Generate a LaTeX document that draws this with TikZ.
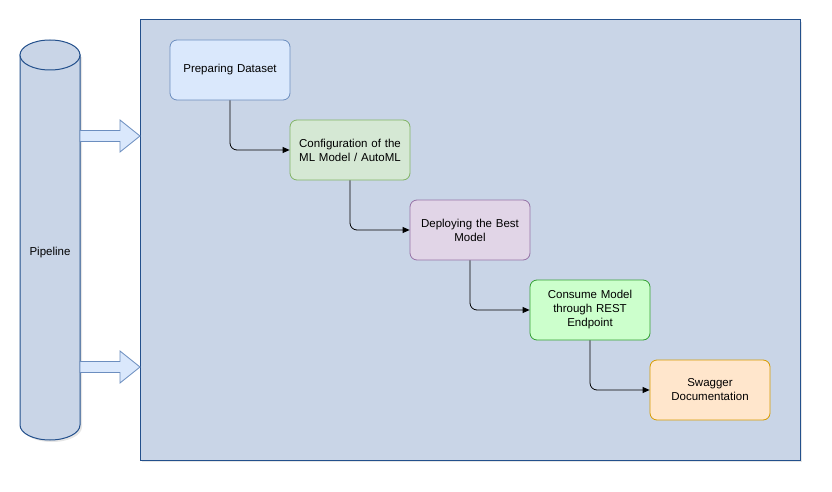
\documentclass[tikz,border=0pt]{standalone}
\usepackage{fontspec}
\setmainfont{Liberation Sans}
\usetikzlibrary{arrows.meta,positioning,shadows}

\definecolor{panelfill}{HTML}{C9D5E7}
\definecolor{panelline}{HTML}{23508C}
\definecolor{bluefill}{HTML}{DAE8FC}
\definecolor{blueline}{HTML}{6C8EBF}
\definecolor{greenfill}{HTML}{D5E8D4}
\definecolor{greenline}{HTML}{82B366}
\definecolor{purplefill}{HTML}{E1D5E7}
\definecolor{purpleline}{HTML}{9673A6}
\definecolor{limefill}{HTML}{CCFFCC}
\definecolor{limeline}{HTML}{33A033}
\definecolor{orangefill}{HTML}{FFE6CC}
\definecolor{orangeline}{HTML}{D79B00}

\tikzset{
  stage/.style={draw, line width=0.8pt, rounded corners=7pt, minimum width=120pt,
    minimum height=60pt, text width=112pt, align=center,
    font=\fontsize{11.5}{14}\selectfont},
  link/.style={-{Triangle[length=7pt,width=6pt]}, line width=0.8pt, rounded corners=7pt},
  softshadow/.style={drop shadow={opacity=0.2, shadow xshift=2pt, shadow yshift=-2pt}},
}

\begin{document}
\begin{tikzpicture}[x=1pt, y=-1pt]
  \useasboundingbox (0,0) rectangle (832,492);

  % panel holding the stages
  \node[draw=panelline, fill=panelfill, line width=1pt, softshadow,
    minimum width=660pt, minimum height=440pt] (panel) at (470,240) {};

  % pipeline cylinder
  \draw[draw=panelline, fill=panelfill, line width=1pt, softshadow]
    (20,55) -- (20,425) arc[start angle=180, end angle=360, x radius=30pt, y radius=15pt]
    -- (80,55) -- cycle;
  \draw[draw=panelline, fill=panelfill, line width=1pt]
    (50,55) ellipse[x radius=30pt, y radius=15pt];
  \node[font=\fontsize{11.5}{14}\selectfont] (pipe) at (50,253) {Pipeline};

  % block arrows into the panel
  \foreach \yy in {136,367}
    \draw[draw=blueline, fill=bluefill, line width=0.8pt]
      (80,\yy-5.5) -- (120,\yy-5.5) -- (120,\yy-16) -- (140,\yy)
      -- (120,\yy+16) -- (120,\yy+5.5) -- (80,\yy+5.5) -- cycle;

  % stages
  \node[stage, fill=bluefill, draw=blueline] (prep) at (230,70) {Preparing Dataset};
  \node[stage, fill=greenfill, draw=greenline] (conf) at (350,150)
    {Configuration of the\\ML Model / AutoML};
  \node[stage, fill=purplefill, draw=purpleline] (deploy) at (470,230)
    {Deploying the Best\\Model};
  \node[stage, fill=limefill, draw=limeline] (consume) at (590,310)
    {Consume Model\\through REST\\Endpoint};
  \node[stage, fill=orangefill, draw=orangeline] (swagger) at (710,390)
    {Swagger\\Documentation};

  \draw[link] (prep.south) |- (conf.west);
  \draw[link] (conf.south) |- (deploy.west);
  \draw[link] (deploy.south) |- (consume.west);
  \draw[link] (consume.south) |- (swagger.west);
\end{tikzpicture}
\end{document}
